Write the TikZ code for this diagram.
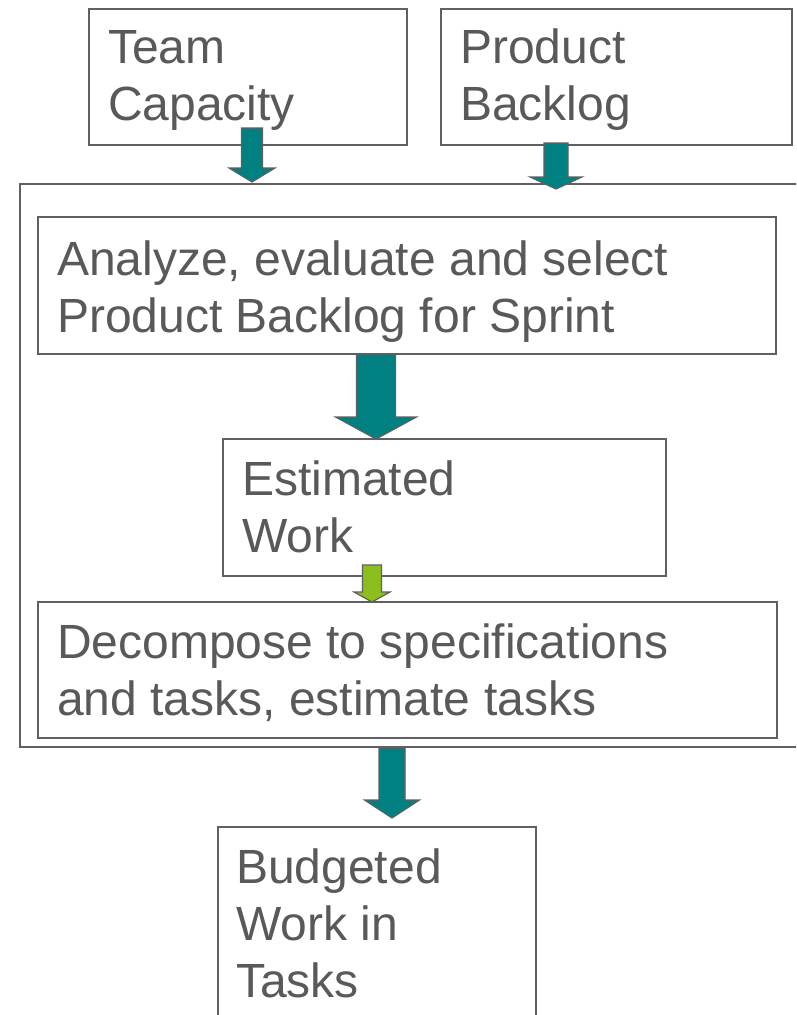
\documentclass[tikz,border=0pt]{standalone}
\usepackage{fontspec}
\setmainfont{Liberation Sans}
\usetikzlibrary{calc}

\definecolor{boxline}{RGB}{96,96,96}
\definecolor{ink}{RGB}{89,89,89}
\definecolor{flowteal}{RGB}{0,128,128}
\definecolor{flowgreen}{RGB}{140,190,30}

\tikzset{
  box/.style={draw=boxline, line width=1.8pt, fill=white, inner sep=0pt,
              anchor=north west, minimum width=#1},
  % base anchor of a multi-line node sits on its last line
  boxtext/.style={text=ink, font=\fontsize{48}{57}\selectfont, align=left,
                  anchor=base west, inner sep=0pt},
  blockarrow/.style={draw=boxline, line width=1.2pt, line join=miter},
}

% Block arrow from the shaft top #2 down to the tip #3:
% #1 fill, #4 shaft half width, #5 head half width, #6 head length
\newcommand{\blockarrow}[6]{%
  \path[blockarrow, fill=#1] let \p1=(#2), \p2=(#3) in
    (\x1-#4pt,\y1) -- (\x1+#4pt,\y1) -- (\x1+#4pt,\y2+#6pt)
    -- (\x1+#5pt,\y2+#6pt) -- (\x1,\y2) -- (\x1-#5pt,\y2+#6pt)
    -- (\x1-#4pt,\y2+#6pt) -- cycle;
}

\begin{document}
\begin{tikzpicture}[x=1pt, y=-1pt]
  \useasboundingbox (0,0) rectangle (796,1015);
  \clip (0,0) rectangle (796,1015);

  % inputs
  \node[box=318pt, minimum height=136pt] (team) at (88,8) {};
  \node[box=351pt, minimum height=136pt] (backlog) at (440,8) {};

  % sprint planning frame
  \node[box=800pt, minimum height=563pt] (frame) at (19,183) {};
  \node[box=738pt, minimum height=137pt] (analyze) at (37,216) {};
  \node[box=443pt, minimum height=137pt] (estimated) at (222,438) {};
  \node[box=739pt, minimum height=136pt] (decompose) at (37,601) {};

  % output
  \node[box=318pt, minimum height=250pt] (budgeted) at (217,826) {};

  % texts
  \node[boxtext] (teamtxt) at (108,120) {Team\\Capacity};
  \node[boxtext] (backlogtxt) at (460,120) {Product\\Backlog};
  \node[boxtext] (analyzetxt) at (57,332) {Analyze, evaluate and select\\Product Backlog for Sprint};
  \node[boxtext] (estimatedtxt) at (242,552) {Estimated\\Work};
  \node[boxtext] (decomposetxt) at (57,715) {Decompose to specifications\\and tasks, estimate tasks};
  \node[boxtext] (budgetedtxt) at (236,997) {Budgeted\\Work in\\Tasks};

  % arrow end points
  \coordinate (teamout) at (252,128);
  \coordinate (teamin) at (252,182);
  \coordinate (backlogout) at (556,143);
  \coordinate (backlogin) at (556,189);
  \coordinate (analyzeout) at (376,354);
  \coordinate (estimatedin) at (376,439);
  \coordinate (estimatedout) at (372,565);
  \coordinate (decomposein) at (372,602);
  \coordinate (frameout) at (392,748);
  \coordinate (budgetedin) at (392,818);

  % arrows
  \blockarrow{flowteal}{teamout}{teamin}{10.5}{23}{14}
  \blockarrow{flowteal}{backlogout}{backlogin}{12}{26}{12}
  \blockarrow{flowteal}{analyzeout}{estimatedin}{19.5}{40.5}{22}
  \blockarrow{flowgreen}{estimatedout}{decomposein}{9.5}{18}{10}
  \blockarrow{flowteal}{frameout}{budgetedin}{13}{27.5}{18}
\end{tikzpicture}
\end{document}
